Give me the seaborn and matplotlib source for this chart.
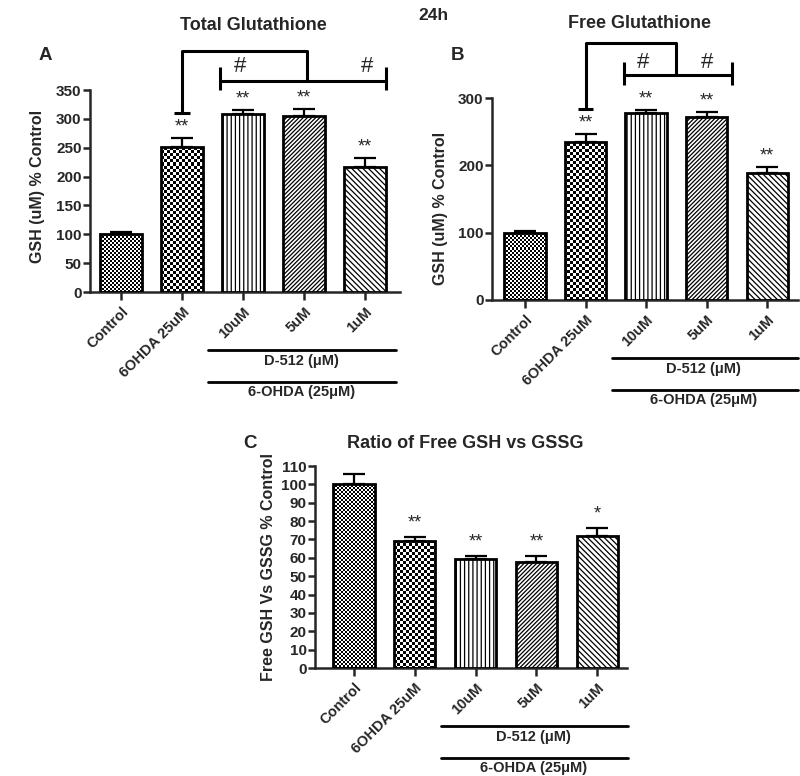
import numpy as np
import pandas as pd
import matplotlib
matplotlib.use("Agg")
import matplotlib.pyplot as plt
import seaborn as sns

# ---------------- data ----------------
groups = ["Control", "6OHDA 25uM", "10uM", "5uM", "1uM"]

total_gsh = [100, 252, 309, 305, 217]
total_err = [4, 15, 6, 12, 15]

free_gsh = [100, 235, 277, 272, 188]
free_err = [3, 12, 5, 7, 9]

ratio_gsh = [100, 69, 59.3, 57.5, 72]
ratio_err = [5.5, 2.4, 1.7, 3.5, 4.5]

total_stars = ["", "**", "**", "**", "**"]
free_stars = ["", "**", "**", "**", "**"]
ratio_stars = ["", "**", "**", "**", "*"]

total_yticks = [0, 50, 100, 150, 200, 250, 300, 350]
free_yticks = [0, 100, 200, 300]
ratio_yticks = [0, 10, 20, 30, 40, 50, 60, 70, 80, 90, 100, 110]

# ---------------- style ----------------
sns.set_style("ticks")
plt.rcParams["font.family"] = ["Liberation Sans", "DejaVu Sans"]
plt.rcParams["font.weight"] = "bold"
plt.rcParams["hatch.linewidth"] = 0.9
plt.rcParams["axes.linewidth"] = 1.8

W, H = 800, 776
fig = plt.figure(figsize=(W / 100, H / 100), dpi=100)


def fpos(left, right, bottom, top):
    return [left / W, 1 - bottom / H, (right - left) / W, (bottom - top) / H]


def fill_checker(ax, patch, cell_px):
    x0, y0 = patch.get_x(), patch.get_y()
    x1, y1 = x0 + patch.get_width(), y0 + patch.get_height()
    (px0, py0), (px1, py1) = ax.transData.transform([(x0, y0), (x1, y1)])
    sx0, sy0 = np.floor(px0) - cell_px, np.floor(py0) - cell_px
    ncol = int(np.ceil((px1 - sx0) / cell_px)) + 1
    nrow = int(np.ceil((py1 - sy0) / cell_px)) + 1
    sx1, sy1 = sx0 + ncol * cell_px, sy0 + nrow * cell_px
    inv = ax.transData.inverted()
    (dx0, dy0), (dx1, dy1) = inv.transform([(sx0, sy0), (sx1, sy1)])
    ii, jj = np.indices((nrow, ncol))
    arr = ((ii + jj) % 2).astype(float)
    im = ax.imshow(arr, extent=(dx0, dx1, dy0, dy1), cmap="gray", vmin=0, vmax=1,
                   interpolation="nearest", aspect="auto", zorder=2.5)
    im.set_clip_path(patch)


def panel(pos, values, errs, stars, yticks, ylim, xlim, ylabel, ylab_xy, star_off):
    ax = fig.add_axes(pos)
    df = pd.DataFrame({"group": groups, "value": values})
    sns.barplot(data=df, x="group", y="value", order=groups, ax=ax,
                width=0.68, color="white", edgecolor="black", linewidth=2.0,
                errorbar=None, saturation=1)
    ax.set_xlim(*xlim)
    ax.set_ylim(*ylim)
    hatches = [None, None, "||||", "////////", "\\\\\\\\\\\\"]
    for p, h in zip(ax.patches, hatches):
        p.set_zorder(3)
        if h:
            p.set_hatch(h)
            p.set_facecolor("white")
        else:
            p.set_facecolor("none")
    fill_checker(ax, ax.patches[0], 2)
    fill_checker(ax, ax.patches[1], 3)
    ax.set_xlim(*xlim)
    ax.set_ylim(*ylim)
    x = np.arange(len(groups))
    ax.errorbar(x, values, yerr=[np.zeros(len(values)), errs], fmt="none",
                ecolor="black", elinewidth=1.6, capsize=8, capthick=1.6, zorder=1)
    for xi, v, e, s in zip(x, values, errs, stars):
        if s:
            ax.annotate(s, (xi, v + e), xytext=(0, star_off), textcoords="offset points",
                        ha="center", va="center", fontsize=13, fontweight="normal",
                        annotation_clip=False)
    sns.despine(ax=ax)
    ax.set_yticks(yticks)
    ax.tick_params(axis="y", direction="out", length=5, width=1.8, labelsize=11, pad=1)
    ax.tick_params(axis="x", direction="out", length=6, width=1.8, labelsize=10.5, pad=3)
    ax.set_xticks(x)
    ax.set_xticklabels(groups, rotation=45, ha="right", va="top", rotation_mode="anchor",
                       fontweight="bold")
    for lab in ax.get_yticklabels():
        lab.set_fontweight("bold")
    ax.set_xlabel("")
    ax.set_ylabel(ylabel, fontsize=11.5, fontweight="bold")
    ax.yaxis.set_label_coords(*ylab_xy)
    # group lines under x labels
    tr = ax.get_xaxis_transform()
    ax.plot([1.43, 4.51], [-0.287, -0.287], transform=tr, color="black", lw=2, clip_on=False)
    ax.plot([1.43, 4.51], [-0.446, -0.446], transform=tr, color="black", lw=2, clip_on=False)
    ax.text(2.95, -0.34, "D-512 (μM)", transform=tr, ha="center", va="center",
            fontsize=10.5, fontweight="bold")
    ax.text(2.95, -0.497, "6-OHDA (25μM)", transform=tr, ha="center", va="center",
            fontsize=10.5, fontweight="bold")
    return ax


def bline(ax, xs, ys):
    ax.plot(xs, ys, color="black", lw=2.2, clip_on=False, solid_capstyle="butt")


# ---------------- panel A ----------------
axA = panel(fpos(90, 400, 292, 90), total_gsh, total_err, total_stars, total_yticks,
            (0, 350), (-0.51, 4.57), "GSH (uM) % Control", (-0.145, 0.525), 8)
bline(axA, [0.87, 1.13], [310, 310])
bline(axA, [1, 1, 3.05, 3.05], [310, 418, 418, 366])
bline(axA, [1.62, 4.34], [366, 366])
bline(axA, [1.62, 1.62], [350, 389])
bline(axA, [4.34, 4.34], [350, 389])
axA.text(1.95, 390, "#", ha="center", va="center", fontsize=16, fontweight="normal")
axA.text(4.03, 390, "#", ha="center", va="center", fontsize=16, fontweight="normal")

# ---------------- panel B ----------------
axB = panel(fpos(492, 798, 300, 98), free_gsh, free_err, free_stars, free_yticks,
            (0, 300), (-0.545, 4.51), "GSH (uM) % Control", (-0.144, 0.455), 8)
bline(axB, [0.87, 1.13], [284, 284])
bline(axB, [1, 1, 2.5, 2.5], [284, 381, 381, 334])
bline(axB, [1.64, 3.42], [334, 334])
bline(axB, [1.64, 1.64], [319, 353])
bline(axB, [3.42, 3.42], [319, 353])
axB.text(1.95, 352, "#", ha="center", va="center", fontsize=16, fontweight="normal")
axB.text(3.0, 352, "#", ha="center", va="center", fontsize=16, fontweight="normal")

# ---------------- panel C ----------------
axC = panel(fpos(315, 627, 668, 466), ratio_gsh, ratio_err, ratio_stars, ratio_yticks,
            (0, 110), (-0.64, 4.49), "Free GSH Vs GSSG % Control", (-0.125, 0.5), 10)

# ---------------- titles ----------------
fig.text(253 / W, 1 - 25 / H, "Total Glutathione", ha="center", va="center",
         fontsize=13, fontweight="bold")
fig.text(640 / W, 1 - 23 / H, "Free Glutathione", ha="center", va="center",
         fontsize=13, fontweight="bold")
fig.text(465 / W, 1 - 443 / H, "Ratio of Free GSH vs GSSG", ha="center", va="center",
         fontsize=13, fontweight="bold")
fig.text(433 / W, 1 - 15 / H, "24h", ha="center", va="center", fontsize=12.5, fontweight="bold")
fig.text(45 / W, 1 - 55 / H, "A", ha="center", va="center", fontsize=13.5, fontweight="bold")
fig.text(458 / W, 1 - 55 / H, "B", ha="center", va="center", fontsize=13.5, fontweight="bold")
fig.text(250 / W, 1 - 443 / H, "C", ha="center", va="center", fontsize=13.5, fontweight="bold")

fig.savefig("out.png", dpi=100, facecolor="white")
